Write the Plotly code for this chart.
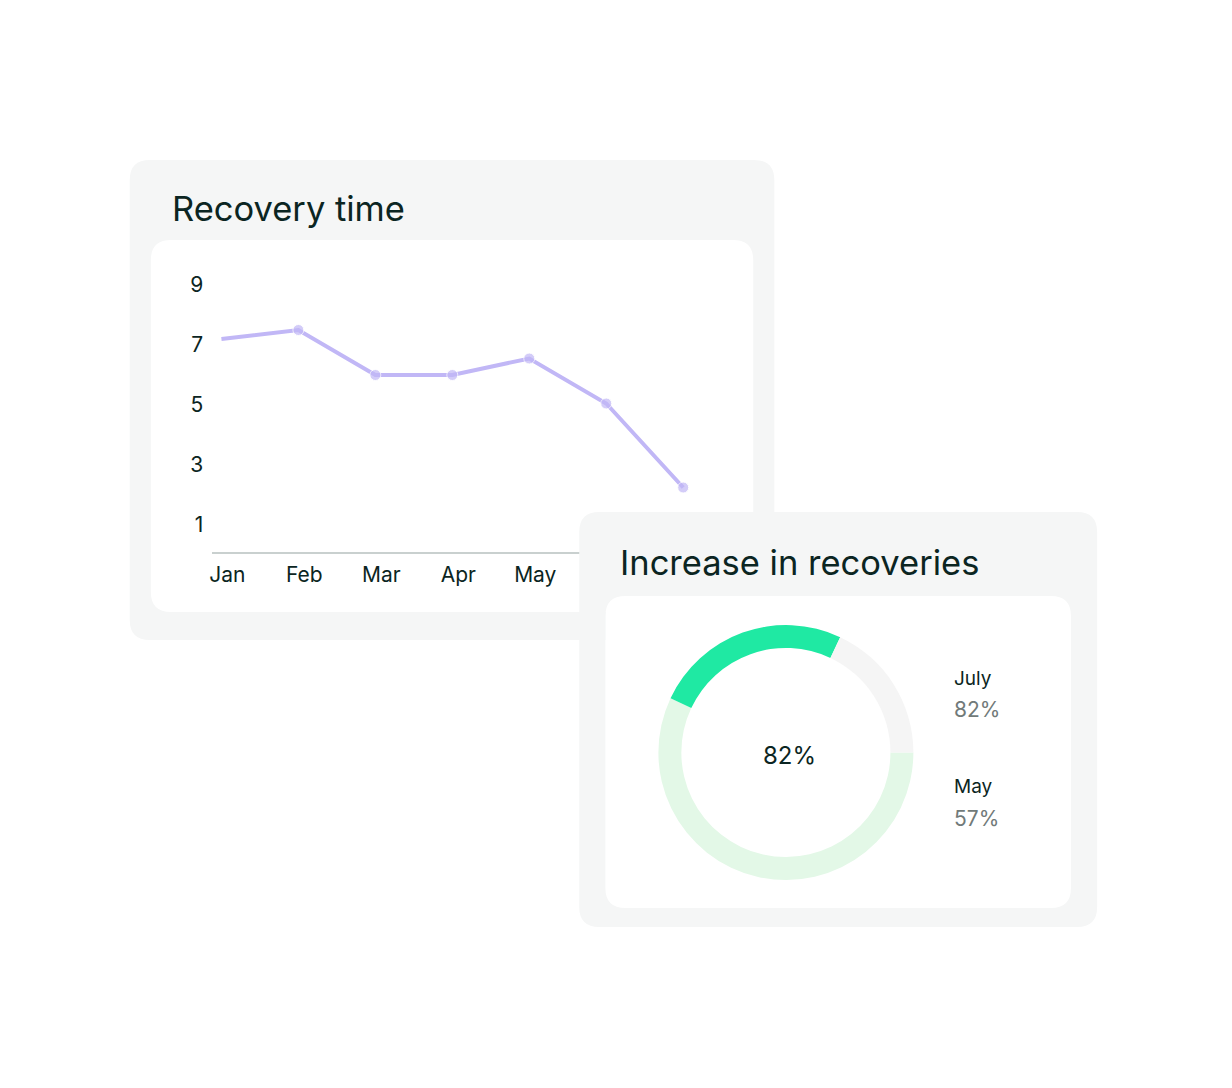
import plotly.graph_objects as go

W, H = 1232, 1088
OFF = 8  # page body margin

# recovery time per month (days)
months = ['Jan', 'Feb', 'Mar', 'Apr', 'May', 'Jun', 'Jul']
recovery_days = [7.2, 7.5, 6.0, 6.0, 6.55, 5.05, 2.25]
y_ticks = [1, 3, 5, 7, 9]

# increase in recoveries
may_pct = 57
july_pct = 82

DARK = '#0b2522'
GREY_TXT = '#717a79'
CARD = '#f5f6f6'
LINE = '#c1b7f6'
FONT = 'Inter'


def px(x):
    # screen px -> paper; small horizontal correction measured from a test render
    return ((x - 9) / 0.992 - OFF) / W


def py(y):
    return 1 - (y - OFF) / H


def rounded_rect(x0, y0, x1, y1, r):
    pts = [
        ('M', [(x0 + r, y0)]), ('L', [(x1 - r, y0)]), ('Q', [(x1, y0), (x1, y0 + r)]),
        ('L', [(x1, y1 - r)]), ('Q', [(x1, y1), (x1 - r, y1)]),
        ('L', [(x0 + r, y1)]), ('Q', [(x0, y1), (x0, y1 - r)]),
        ('L', [(x0, y0 + r)]), ('Q', [(x0, y0), (x0 + r, y0)]),
    ]
    out = ''
    for cmd, coords in pts:
        out += cmd + ' '.join(f'{px(a):.5f},{py(b):.5f}' for a, b in coords) + ' '
    return out + 'Z'


fig = go.Figure()

# line chart
fig.add_trace(go.Scatter(
    x=months, y=recovery_days,
    mode='lines+markers',
    line=dict(color=LINE, width=4),
    marker=dict(size=[0] + [11] * (len(months) - 1), color=LINE),
    hoverinfo='skip', showlegend=False,
))

# donut: may share, july increase, rest
fig.add_trace(go.Pie(
    values=[may_pct, july_pct - may_pct, 100 - july_pct],
    marker=dict(colors=['#e3f8e7', '#1fe9a3', '#f5f5f5'], line=dict(width=0)),
    hole=0.82, sort=False, direction='clockwise', rotation=90,
    textinfo='none', hoverinfo='skip', showlegend=False,
    domain=dict(x=[px(660), px(915)], y=[py(880), py(625)]),
))

shapes = [
    # left card
    dict(path=rounded_rect(135, 160, 776, 640, 20), fillcolor=CARD, layer='below'),
    dict(path=rounded_rect(156, 240, 755, 612, 20), fillcolor='white', layer='below'),
    # right card inner panel, then frame on top of the line chart
    dict(path=rounded_rect(608, 596, 1071, 908, 20), fillcolor='white', layer='below'),
    dict(path=rounded_rect(582, 512, 1097, 927, 20) + ' ' + rounded_rect(608, 596, 1071, 908, 20),
         fillcolor=CARD, fillrule='evenodd', layer='above'),
]
for s in shapes:
    s.update(type='path', xref='paper', yref='paper', line_width=0)

annotations = [
    dict(text='Recovery time', x=px(175), y=py(208), xanchor='left', yanchor='middle',
         font=dict(size=34.5, color=DARK)),
    dict(text='Increase in recoveries', x=px(621), y=py(562), xanchor='left', yanchor='middle',
         font=dict(size=34.5, color=DARK)),
    dict(text=f'{july_pct}%', x=px(791), y=py(755), xanchor='center', yanchor='middle',
         font=dict(size=24, color=DARK)),
    dict(text='July', x=px(953), y=py(678), xanchor='left', yanchor='middle',
         font=dict(size=19, color=DARK)),
    dict(text=f'{july_pct}%', x=px(953), y=py(709), xanchor='left', yanchor='middle',
         font=dict(size=21, color=GREY_TXT)),
    dict(text='May', x=px(953), y=py(786), xanchor='left', yanchor='middle',
         font=dict(size=19, color=DARK)),
    dict(text=f'{may_pct}%', x=px(953), y=py(818), xanchor='left', yanchor='middle',
         font=dict(size=21, color=GREY_TXT)),
]
for a in annotations:
    a.update(xref='paper', yref='paper', showarrow=False)

fig.update_layout(
    width=W, height=H,
    margin=dict(l=0, r=0, t=0, b=0),
    paper_bgcolor='white', plot_bgcolor='rgba(0,0,0,0)',
    font=dict(family=FONT, color=DARK),
    shapes=shapes, annotations=annotations,
    xaxis=dict(domain=[px(217), px(716)], range=[-0.12, 6.4], showgrid=False, zeroline=False,
               showline=True, linecolor='#c9d0cf', linewidth=2, ticks='',
               tickvals=months[:5],  # Jun/Jul labels sit under the second card
               tickfont=dict(size=21, color=DARK), ticklabelstandoff=3, ticklabelshift=6),
    yaxis=dict(domain=[py(552), py(267)], range=[0.1, 9.6], showgrid=False, zeroline=False,
               showline=False, tickvals=y_ticks, ticks='',
               tickfont=dict(size=21, color=DARK), ticklabelstandoff=8),
)

fig.write_html('out.html')
